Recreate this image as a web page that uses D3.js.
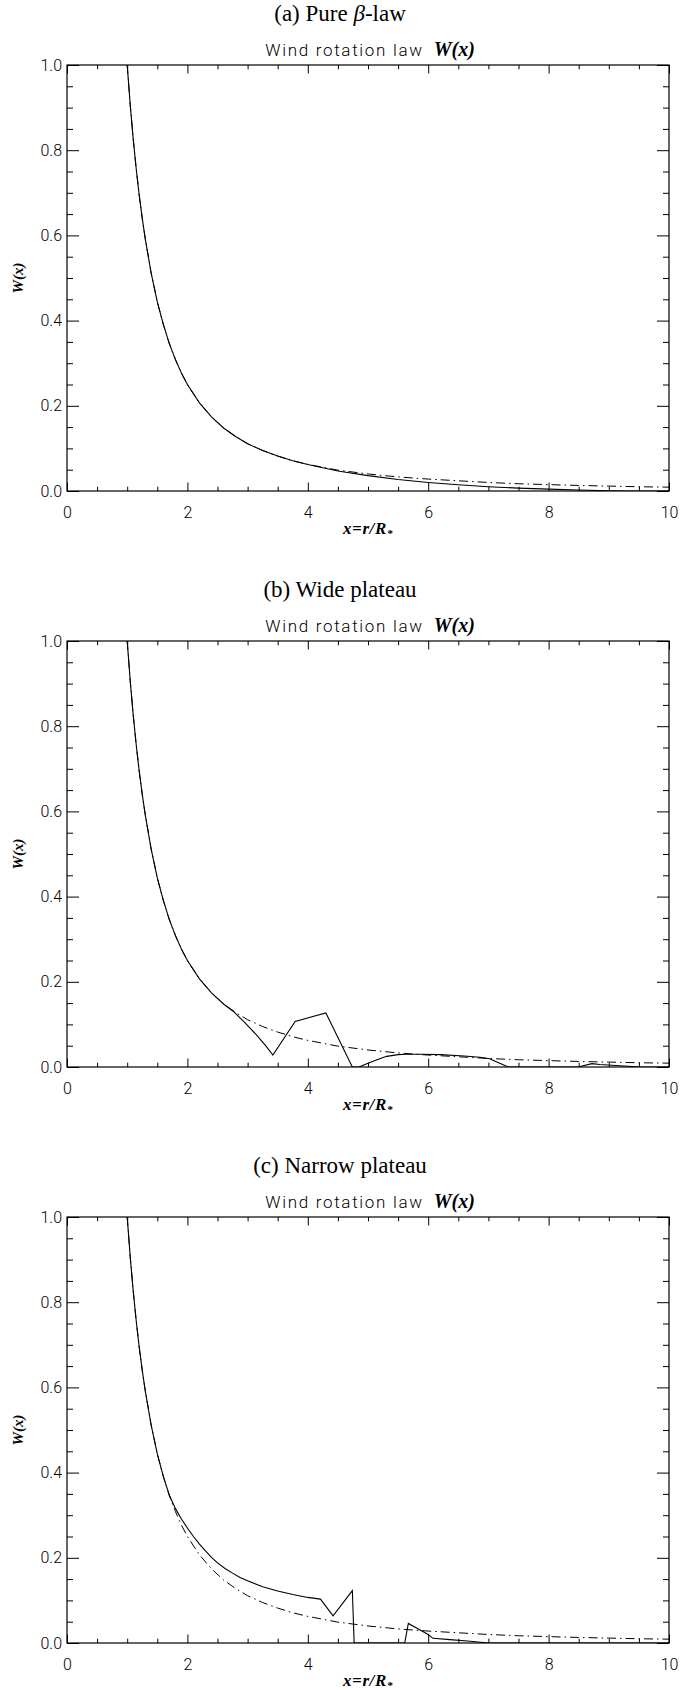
<!DOCTYPE html>
<html>
<head>
<meta charset="utf-8">
<script src="https://cdn.jsdelivr.net/npm/d3@7"></script>
<style>
  html, body { margin: 0; padding: 0; background: #fff; }
  svg { display: block; }
</style>
</head>
<body>
<svg id="chart" width="680" height="1690"></svg>
<script>
// ---------------- data ----------------
const panelTitles = ["(a) Pure ", "(b) Wide plateau", "(c) Narrow plateau"];
const xTickLabels = [0, 2, 4, 6, 8, 10];
const yTickLabels = [0.0, 0.2, 0.4, 0.6, 0.8, 1.0];

// reference beta-law (dash-dot)
const betaX = [1.00,1.05,1.10,1.15,1.20,1.25,1.30,1.40,1.50,1.60,1.70,1.80,1.90,2.00,2.20,2.40,2.60,2.80,3.00,3.25,3.50,3.75,4.00,4.50,5.00,5.50,6.00,6.50,7.00,7.50,8.00,8.50,9.00,9.50,10.00];
const betaW = [1.000,0.907,0.826,0.756,0.694,0.640,0.592,0.510,0.444,0.391,0.346,0.309,0.277,0.250,0.207,0.174,0.148,0.128,0.111,0.095,0.082,0.071,0.0625,0.049,0.040,0.033,0.028,0.024,0.020,0.017,0.0150,0.013,0.0115,0.010,0.009];

// (a) pure beta-law, solid
const pureX = [1.00,1.05,1.10,1.15,1.20,1.25,1.30,1.40,1.50,1.60,1.70,1.80,1.90,2.00,2.20,2.40,2.60,2.80,3.00,3.25,3.50,3.75,4.00,4.50,5.00,5.50,6.00,6.50,7.00,7.50,8.00,8.50,9.00,9.30,10.00];
const pureW = [1.000,0.907,0.826,0.756,0.694,0.640,0.592,0.510,0.444,0.391,0.346,0.309,0.277,0.250,0.207,0.174,0.148,0.128,0.111,0.095,0.082,0.071,0.0620,0.047,0.036,0.027,0.020,0.0145,0.010,0.0068,0.0044,0.0022,0.0006,0.0,0.0];

// (b) wide plateau, solid
const wideX = [1.00,1.05,1.10,1.15,1.20,1.25,1.30,1.40,1.50,1.60,1.70,1.80,1.90,2.00,2.20,2.40,2.60,2.76,2.95,3.15,3.30,3.42,3.79,4.30,4.74,4.85,4.98,5.15,5.31,5.50,5.64,5.86,6.20,6.60,6.86,7.02,7.33,8.49,8.72,8.85,9.52,10.00];
const wideW = [1.000,0.907,0.826,0.756,0.694,0.640,0.592,0.510,0.444,0.391,0.346,0.309,0.277,0.250,0.207,0.174,0.148,0.131,0.105,0.075,0.050,0.028,0.107,0.127,0.0,0.0,0.0075,0.017,0.025,0.029,0.030,0.030,0.029,0.026,0.023,0.0195,0.0,0.0,0.008,0.006,0.0,0.0];

// (c) narrow plateau, solid
const narrowX = [1.00,1.05,1.10,1.15,1.20,1.25,1.30,1.40,1.50,1.60,1.70,1.80,1.90,2.00,2.10,2.20,2.30,2.40,2.50,2.625,2.75,2.875,3.00,3.25,3.50,3.75,4.00,4.21,4.42,4.74,4.77,5.61,5.67,6.00,6.08,6.36,6.70,7.00,10.00];
const narrowW = [1.000,0.907,0.826,0.756,0.694,0.640,0.592,0.510,0.444,0.391,0.347,0.316,0.291,0.270,0.250,0.232,0.216,0.201,0.188,0.175,0.164,0.154,0.146,0.132,0.122,0.114,0.107,0.103,0.064,0.123,0.0,0.0,0.046,0.020,0.011,0.008,0.004,0.0,0.0];

const solidX = [pureX, wideX, narrowX];
const solidW = [pureW, wideW, narrowW];

// ---------------- layout ----------------
const svg = d3.select("#chart");
const left = 67, right = 669, plotH = 426;
const tops = [65, 641, 1217];
const x = d3.scaleLinear().domain([0, 10]).range([left, right]);
const majorX = xTickLabels;
const minorX = d3.range(0, 10.001, 0.5).filter(v => Math.abs(v / 2 - Math.round(v / 2)) > 1e-6);
const majorY = yTickLabels;
const minorY = d3.range(0, 1.0001, 0.05).filter(v => Math.abs(v / 0.2 - Math.round(v / 0.2)) > 1e-6);

const tickFont = "Roboto, 'DejaVu Sans', sans-serif";
const serif = "'Liberation Serif', 'Times New Roman', serif";

svg.append("defs").selectAll("clipPath").data(tops).join("clipPath")
  .attr("id", (d, i) => "clip" + i)
  .append("rect").attr("x", left).attr("y", d => d).attr("width", right - left).attr("height", plotH);

tops.forEach((top, i) => {
  const bottom = top + plotH;
  const y = d3.scaleLinear().domain([0, 1]).range([bottom, top]);
  const g = svg.append("g");

  // panel title
  const t = g.append("text").attr("x", 340).attr("y", top - 44)
    .attr("text-anchor", "middle").attr("font-family", serif).attr("font-size", 23)
    .text(panelTitles[i]);
  if (i === 0) {
    t.append("tspan").attr("font-style", "italic").text("β");
    t.append("tspan").text("-law");
  }

  // subtitle
  const st = g.append("text").attr("x", (left + right) / 2 + 2).attr("y", top - 9)
    .attr("text-anchor", "middle");
  st.append("tspan").attr("font-family", tickFont).attr("font-weight", 300)
    .attr("font-size", 17).attr("letter-spacing", 1.7).text("Wind rotation law ");
  st.append("tspan").attr("font-family", serif).attr("font-style", "italic")
    .attr("font-weight", "bold").attr("font-size", 20).attr("dx", 4).text("W(x)");

  // axes (ticks inward, on all sides)
  const axisStyle = sel => {
    sel.select(".domain").remove();
    sel.selectAll("line").attr("stroke", "#000").attr("stroke-width", 1);
    sel.selectAll("text").attr("font-family", tickFont).attr("font-weight", 300)
      .attr("font-size", 16).attr("fill", "#000");
  };
  g.append("g").attr("transform", `translate(0,${bottom})`)
    .call(d3.axisBottom(x).tickValues(majorX).tickSizeInner(-8.5).tickSizeOuter(0).tickPadding(16).tickFormat(d3.format("d")))
    .call(axisStyle);
  g.append("g").attr("transform", `translate(0,${bottom})`)
    .call(d3.axisBottom(x).tickValues(minorX).tickSizeInner(-4.3).tickSizeOuter(0).tickFormat(""))
    .call(axisStyle);
  g.append("g").attr("transform", `translate(0,${top})`)
    .call(d3.axisTop(x).tickValues(majorX).tickSizeInner(-8.5).tickSizeOuter(0).tickFormat(""))
    .call(axisStyle);
  g.append("g").attr("transform", `translate(0,${top})`)
    .call(d3.axisTop(x).tickValues(minorX).tickSizeInner(-4.3).tickSizeOuter(0).tickFormat(""))
    .call(axisStyle);
  g.append("g").attr("transform", `translate(${left},0)`)
    .call(d3.axisLeft(y).tickValues(majorY).tickSizeInner(-12).tickSizeOuter(0).tickPadding(5).tickFormat(d3.format(".1f")))
    .call(axisStyle);
  g.append("g").attr("transform", `translate(${left},0)`)
    .call(d3.axisLeft(y).tickValues(minorY).tickSizeInner(-6).tickSizeOuter(0).tickFormat(""))
    .call(axisStyle);
  g.append("g").attr("transform", `translate(${right},0)`)
    .call(d3.axisRight(y).tickValues(majorY).tickSizeInner(-12).tickSizeOuter(0).tickFormat(""))
    .call(axisStyle);
  g.append("g").attr("transform", `translate(${right},0)`)
    .call(d3.axisRight(y).tickValues(minorY).tickSizeInner(-6).tickSizeOuter(0).tickFormat(""))
    .call(axisStyle);

  // frame
  g.append("rect").attr("x", left).attr("y", top).attr("width", right - left).attr("height", plotH)
    .attr("fill", "none").attr("stroke", "#000").attr("stroke-width", 1.2);

  // curves
  const line = d3.line().x(d => x(d[0])).y(d => y(d[1]));
  const cg = g.append("g").attr("clip-path", `url(#clip${i})`);
  cg.append("path").datum(d3.zip(betaX, betaW)).attr("d", line)
    .attr("fill", "none").attr("stroke", "#000").attr("stroke-width", 1)
    .attr("stroke-dasharray", "9,4,1.5,4");
  cg.append("path").datum(d3.zip(solidX[i], solidW[i])).attr("d", line)
    .attr("fill", "none").attr("stroke", "#000").attr("stroke-width", 1.1);

  // axis titles
  const xl = g.append("text").attr("x", (left + right) / 2).attr("y", bottom + 43)
    .attr("text-anchor", "middle").attr("font-family", serif).attr("font-style", "italic")
    .attr("font-weight", "bold").attr("font-size", 17).attr("letter-spacing", 0.6);
  xl.append("tspan").text("x=r/R");
  xl.append("tspan").attr("font-size", 11).attr("dy", 3).text("*");

  g.append("text").attr("transform", `translate(23,${(top + bottom) / 2}) rotate(-90)`)
    .attr("text-anchor", "middle").attr("font-family", serif).attr("font-style", "italic")
    .attr("font-weight", "bold").attr("font-size", 15).text("W(x)");
});
</script>
</body>
</html>
